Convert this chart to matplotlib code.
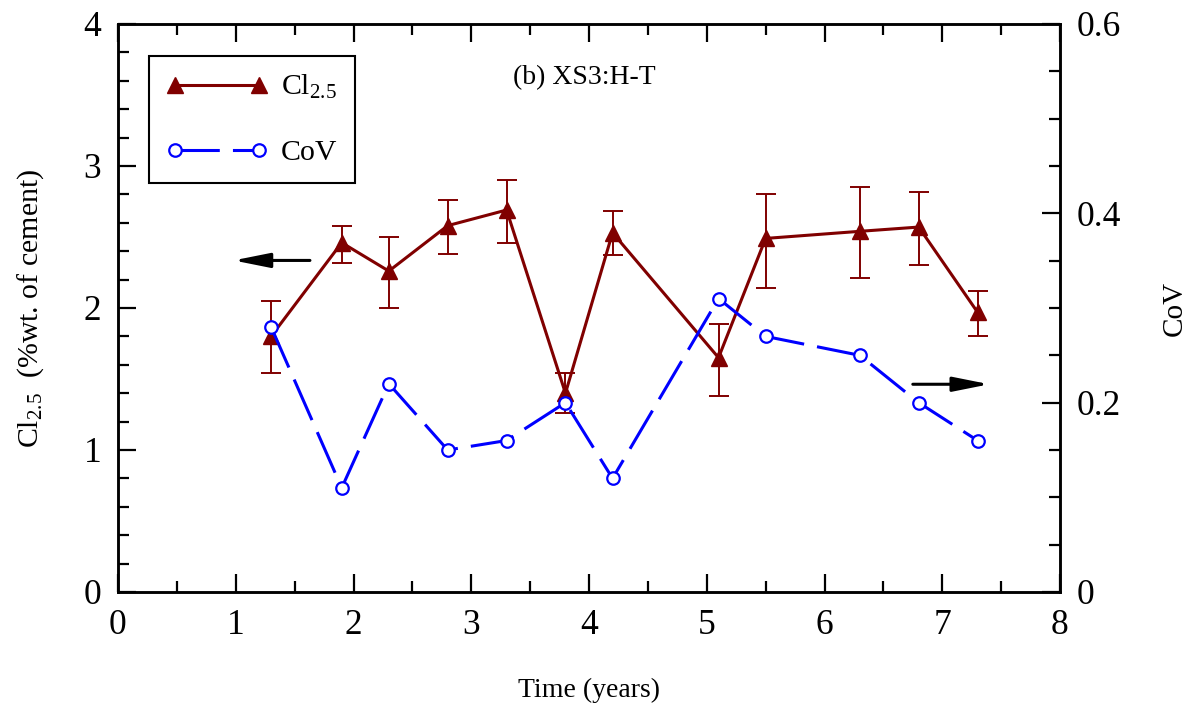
import matplotlib
matplotlib.use("Agg")
import matplotlib.pyplot as plt
from matplotlib.ticker import MultipleLocator, FuncFormatter

plt.rcParams["font.family"] = ["Liberation Serif", "DejaVu Serif"]
plt.rcParams["mathtext.fontset"] = "custom"
plt.rcParams["mathtext.rm"] = "Liberation Serif"
plt.rcParams["mathtext.it"] = "Liberation Serif:italic"

# ── data ───────────────────────────────────────────────────────────
time_years = [1.3, 1.9, 2.3, 2.8, 3.3, 3.8, 4.2, 5.1, 5.5, 6.3, 6.8, 7.3]
cl_mean = [1.80, 2.46, 2.26, 2.58, 2.69, 1.40, 2.53, 1.65, 2.49, 2.54, 2.57, 1.97]
cl_upper = [2.05, 2.58, 2.50, 2.76, 2.90, 1.54, 2.68, 1.89, 2.80, 2.85, 2.82, 2.12]
cl_lower = [1.545, 2.32, 2.00, 2.38, 2.46, 1.26, 2.37, 1.38, 2.14, 2.21, 2.30, 1.80]
cov = [0.28, 0.11, 0.22, 0.15, 0.16, 0.20, 0.12, 0.31, 0.27, 0.25, 0.20, 0.16]

RED = "#800000"
BLUE = "#0000ff"
TICK_FS = 25.5

fig = plt.figure(figsize=(11.9, 7.06), dpi=100)
ax = fig.add_axes([118 / 1190, 1 - 592 / 706, (1060 - 118) / 1190, (592 - 24) / 706])
ax2 = ax.twinx()

# ── Cl2.5 with error bars ──────────────────────────────────────────
err_lo = [m - lo for m, lo in zip(cl_mean, cl_lower)]
err_hi = [hi - m for m, hi in zip(cl_mean, cl_upper)]
ax.errorbar(time_years, cl_mean, yerr=[err_lo, err_hi], fmt="none",
            ecolor=RED, elinewidth=1.4, capsize=7, capthick=1.4)
h_cl, = ax.plot(time_years, cl_mean, color=RED, lw=2.2, marker="^",
                markersize=11, markerfacecolor=RED, markeredgecolor=RED,
                label=r"Cl$_{\mathrm{2.5}}$")

# ── CoV on the right axis ──────────────────────────────────────────
h_cov, = ax2.plot(time_years, cov, color=BLUE, lw=2.2, dashes=(14.5, 4.3),
                  marker="o", markersize=9, markerfacecolor="white",
                  markeredgecolor=BLUE, markeredgewidth=1.6, label="CoV")

# ── axes / ticks ───────────────────────────────────────────────────
ax.set_xlim(0, 8)
ax.set_ylim(0, 4)
ax2.set_ylim(0, 0.6)
ax.xaxis.set_major_locator(MultipleLocator(1))
ax.xaxis.set_minor_locator(MultipleLocator(0.5))
ax.yaxis.set_major_locator(MultipleLocator(1))
ax.yaxis.set_minor_locator(MultipleLocator(0.2))
ax2.yaxis.set_major_locator(MultipleLocator(0.2))
ax2.yaxis.set_minor_locator(MultipleLocator(0.05))
ax2.yaxis.set_major_formatter(FuncFormatter(lambda v, p: "0" if abs(v) < 1e-9 else f"{v:.1f}"))

ax.tick_params(axis="x", which="both", direction="in", top=True, bottom=True,
               labelsize=TICK_FS, pad=12, width=1.6)
ax.tick_params(axis="y", which="both", direction="in", left=True, right=False,
               labelsize=TICK_FS, pad=12, width=1.6)
ax.tick_params(which="major", length=13)
ax.tick_params(which="minor", length=8)
ax2.tick_params(axis="y", which="both", direction="in", right=True, left=False,
                labelsize=TICK_FS, pad=12, width=1.6)
ax2.tick_params(which="major", length=13)
ax2.tick_params(which="minor", length=8)

for a in (ax, ax2):
    for s in a.spines.values():
        s.set_linewidth(1.8)

ax.set_xlabel("Time (years)", fontsize=20, labelpad=26)
ax.set_ylabel(r"Cl$_{\mathrm{2.5}}$  (%wt. of cement)", fontsize=21.5, labelpad=27)
ax2.set_ylabel("CoV", fontsize=21, labelpad=29)

ax.text(0.495, 0.905, "(b) XS3:H-T", transform=ax.transAxes, ha="center",
        va="center", fontsize=20)

# ── direction arrows ───────────────────────────────────────────────
arrow_style = dict(arrowstyle="-|>,head_length=1.1,head_width=0.22",
                   color="black", lw=2.2, mutation_scale=20,
                   shrinkA=0, shrinkB=0)
ax.annotate("", xy=(0.98, 2.335), xytext=(1.63, 2.335), arrowprops=arrow_style)
ax.annotate("", xy=(7.40, 1.463), xytext=(6.75, 1.463), arrowprops=arrow_style)

# ── legend ─────────────────────────────────────────────────────────
leg = ax2.legend([h_cl, h_cov], [h_cl.get_label(), h_cov.get_label()],
                 loc="upper left", bbox_to_anchor=(149 / 1190, 1 - 56 / 706),
                 bbox_transform=fig.transFigure, borderaxespad=0,
                 numpoints=2, handlelength=3.4, fontsize=21.5, labelspacing=1.27,
                 fancybox=False, framealpha=1, edgecolor="black",
                 borderpad=0.57, handletextpad=0.45)
leg.get_frame().set_linewidth(1.5)

fig.savefig("out.png", dpi=100)
